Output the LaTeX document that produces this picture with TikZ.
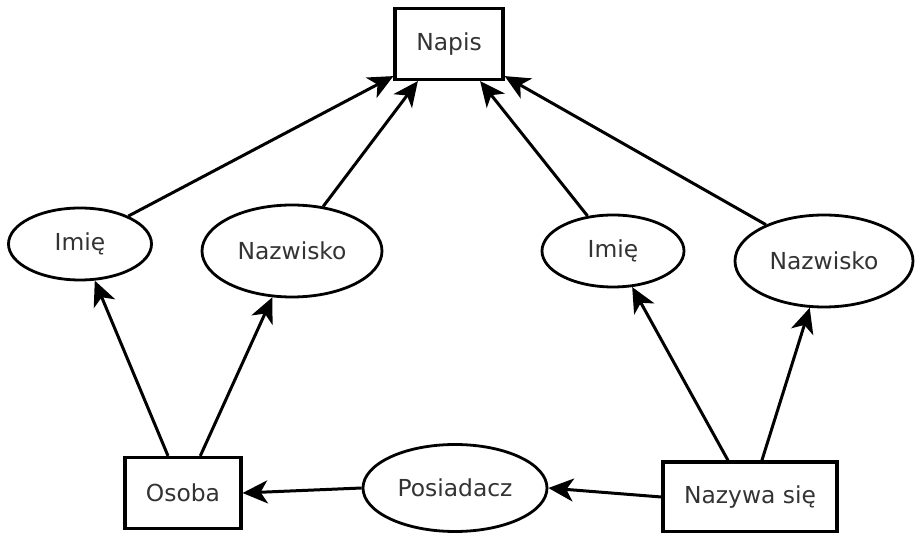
\documentclass[tikz,border=0pt]{standalone}
\usepackage{fontspec}
\setmainfont{DejaVu Sans}
\usetikzlibrary{shapes,arrows.meta,positioning}
\tikzset{
	entity/.style = {draw, line width=1.6pt, rectangle, inner sep=0pt, minimum height=35.5pt},
	attrib/.style = {draw, line width=1.4pt, ellipse, inner sep=0pt},
	link/.style = {-{Stealth[length=12.5pt,width=11.5pt,inset=3.5pt]}, line width=1.5pt},
	every node/.style = {font=\fontsize{11.7}{14}\selectfont, text=black!80}
}
\begin{document}
\begin{tikzpicture}[x=0.5pt,y=-0.5pt]
	\useasboundingbox (0,0) rectangle (916,533);
	\node[entity, minimum width=54pt] (napis) at (449,44) {Napis};
	\node[attrib, minimum width=71.5pt, minimum height=36pt] (imieL) at (80,244) {Imię};
	\node[attrib, minimum width=90pt, minimum height=46pt] (nazwiskoL) at (292,251) {Nazwisko};
	\node[attrib, minimum width=71pt, minimum height=36pt] (imieR) at (613,251) {Imię};
	\node[attrib, minimum width=89pt, minimum height=46pt] (nazwiskoR) at (824,261) {Nazwisko};
	\node[entity, minimum width=58pt] (osoba) at (183,493) {Osoba};
	\node[attrib, minimum width=92pt, minimum height=43.5pt] (posiadacz) at (455,488) {Posiadacz};
	\node[entity, minimum width=87pt, minimum height=35pt] (nazywa) at (750,497) {Nazywa się};
	\draw[link] (imieL.30) -- (napis.210);
	\draw[link] (nazwiskoL.55) -- (napis.230);
	\draw[link] (imieR.126) -- (napis.310);
	\draw[link] (nazwiskoR.148) -- (napis.330);
	\draw[link] (osoba.112) -- (imieL.292);
	\draw[link] (osoba.65) -- (nazwiskoL.247);
	\draw[link] (nazywa.121) -- (imieR.298);
	\draw[link] (nazywa.72) -- (nazwiskoR.253);
	\draw[link] (posiadacz.west) -- (osoba.east);
	\draw[link] (nazywa.west) -- (posiadacz.east);
\end{tikzpicture}
\end{document}
